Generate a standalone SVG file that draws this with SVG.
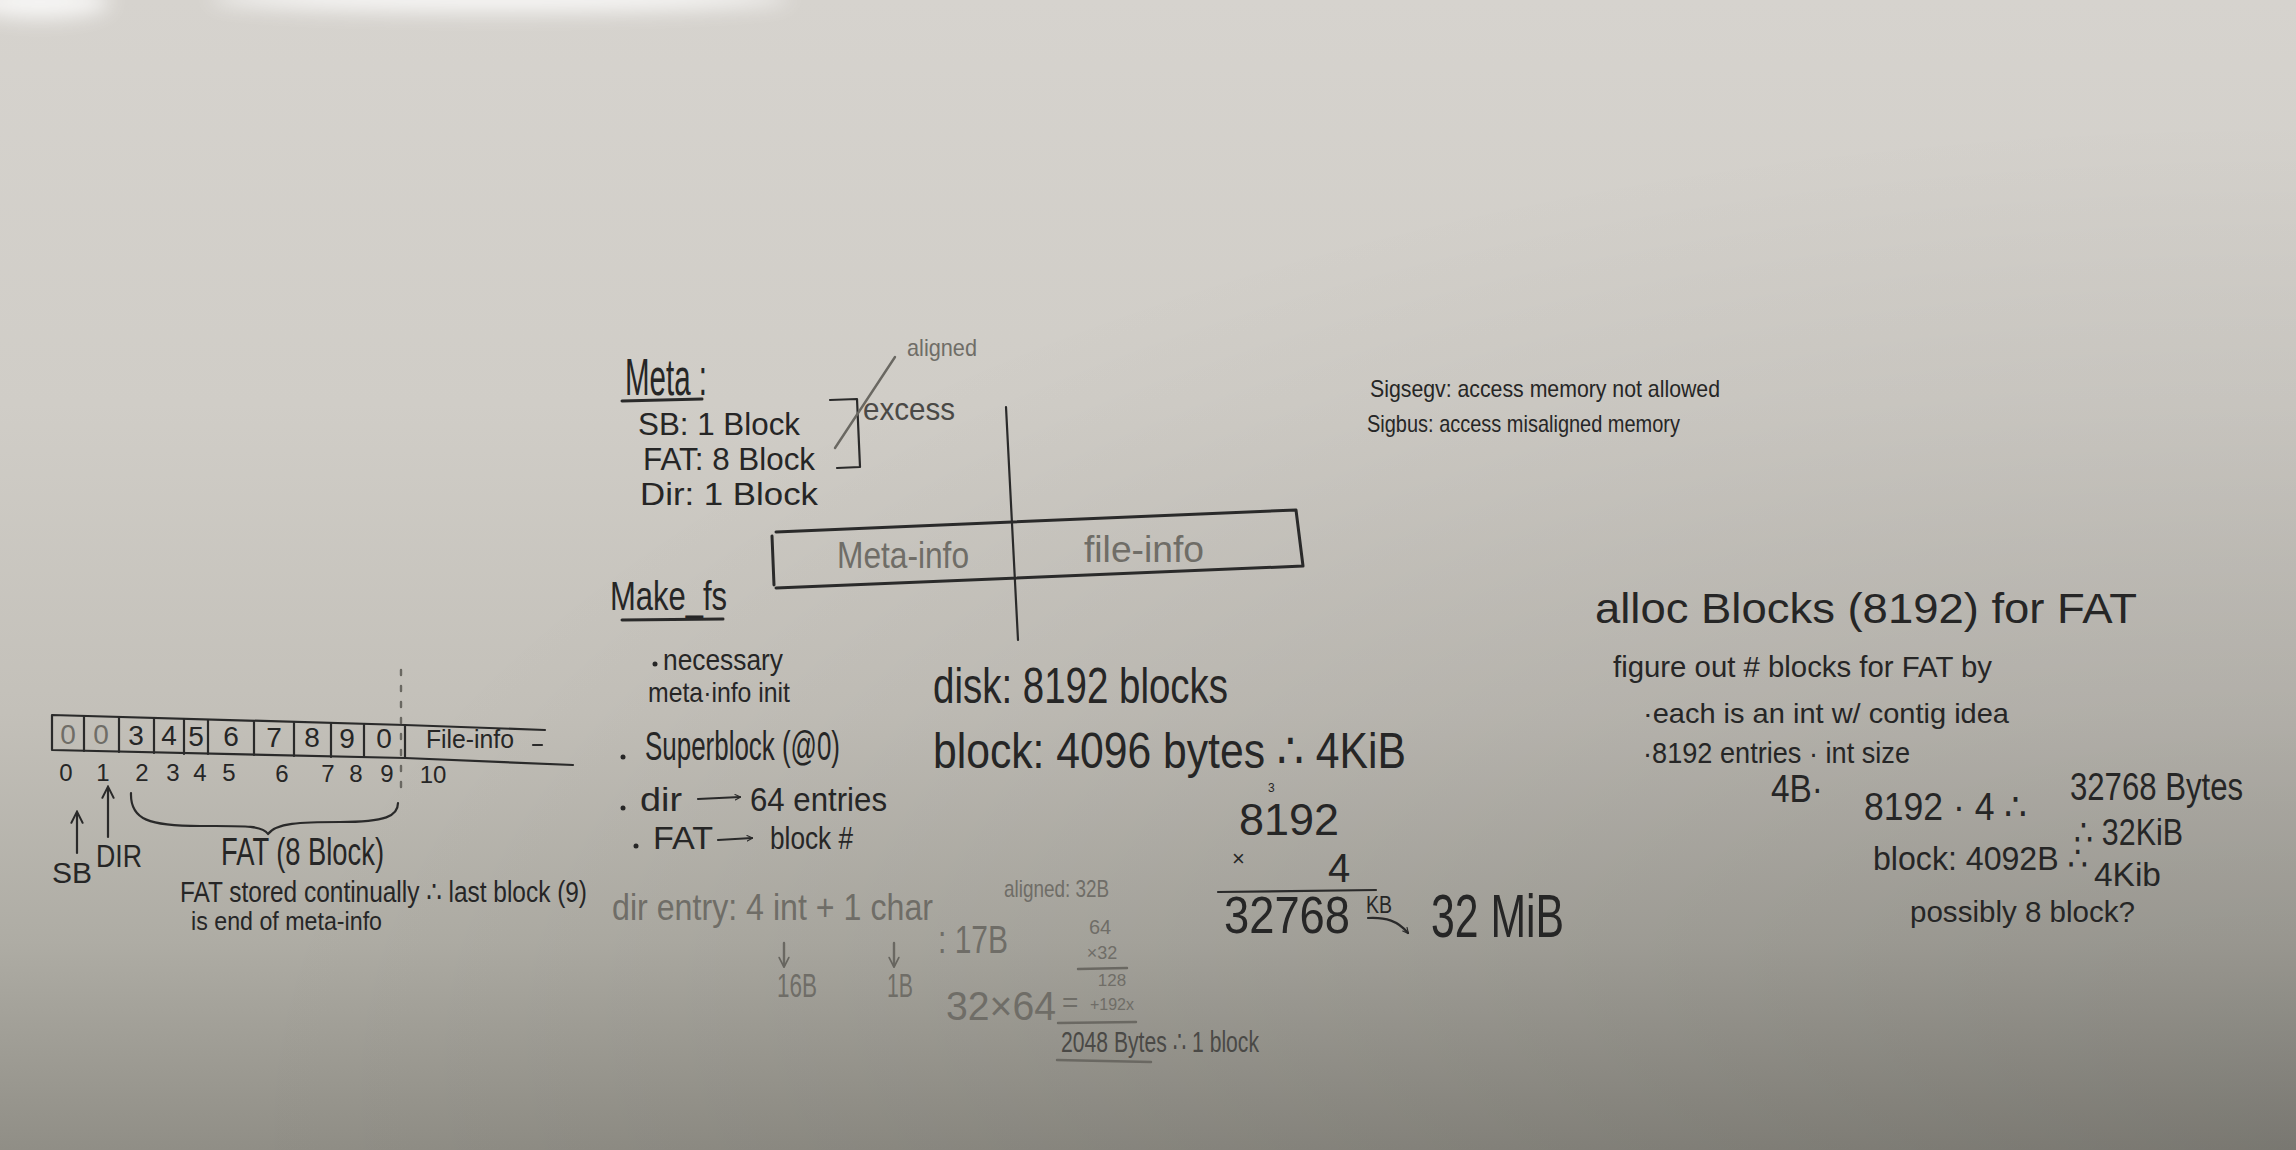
<svg xmlns="http://www.w3.org/2000/svg" width="2296" height="1150" viewBox="0 0 2296 1150">
  <defs>
    <linearGradient id="board" x1="0" y1="0" x2="0" y2="1">
      <stop offset="0" stop-color="#d6d3ce"/>
      <stop offset="0.35" stop-color="#d0cdc7"/>
      <stop offset="0.62" stop-color="#c3c0b9"/>
      <stop offset="0.82" stop-color="#aeaca4"/>
      <stop offset="1" stop-color="#908e86"/>
    </linearGradient>
    <radialGradient id="shade" cx="1" cy="1" r="0.9" gradientUnits="objectBoundingBox">
      <stop offset="0" stop-color="#000" stop-opacity="0.16"/>
      <stop offset="1" stop-color="#000" stop-opacity="0"/>
    </radialGradient>
    <filter id="soft" x="-50%" y="-200%" width="200%" height="500%">
      <feGaussianBlur stdDeviation="10"/>
    </filter>
    <marker id="head" viewBox="0 0 10 10" refX="8" refY="5" markerWidth="7" markerHeight="7" orient="auto-start-reverse" markerUnits="userSpaceOnUse">
      <path d="M1,1 L9,5 L1,9" fill="none" stroke="#2a2a2a" stroke-width="1.6" stroke-linecap="round"/>
    </marker>
    <marker id="headBig" viewBox="0 0 10 10" refX="8" refY="5" markerWidth="14" markerHeight="14" orient="auto" markerUnits="userSpaceOnUse">
      <path d="M1,1 L9,5 L1,9" fill="none" stroke="#2a2a2a" stroke-width="1.4" stroke-linecap="round"/>
    </marker>
    <marker id="headFaint" viewBox="0 0 10 10" refX="8" refY="5" markerWidth="12" markerHeight="12" orient="auto" markerUnits="userSpaceOnUse">
      <path d="M1,1 L9,5 L1,9" fill="none" stroke="#66645e" stroke-width="1.4" stroke-linecap="round"/>
    </marker>
  </defs>
  <style>
    text { font-family: "Liberation Sans", "DejaVu Sans", sans-serif; fill: #262626; }
    .faint { fill: #6f6d67; }
    .mid { fill: #4a4946; }
    .pen { fill: none; stroke: #2a2a2a; stroke-width: 3; stroke-linecap: round; stroke-linejoin: round; }
    .thin { stroke-width: 2.2; }
    .penFaint { fill: none; stroke: #6a6862; stroke-width: 2.4; stroke-linecap: round; stroke-linejoin: round; }
    .dot { fill: #262626; }
  </style>

  <!-- whiteboard surface -->
  <rect width="2296" height="1150" fill="url(#board)"/>
  <rect width="2296" height="1150" fill="url(#shade)"/>
  <g fill="#ffffff" opacity="0.8" filter="url(#soft)">
    <ellipse cx="40" cy="2" rx="70" ry="16"/>
    <ellipse cx="500" cy="-2" rx="290" ry="14"/>
  </g>

  <!-- metadata layout notes -->
  <g id="meta-notes">
    <text x="625" y="395" font-size="52" textLength="82" lengthAdjust="spacingAndGlyphs">Meta :</text>
    <path class="pen" d="M622,401 L702,399"/>
    <text x="638" y="435" font-size="32" textLength="162" lengthAdjust="spacingAndGlyphs">SB: 1 Block</text>
    <text x="643" y="470" font-size="32" textLength="172" lengthAdjust="spacingAndGlyphs">FAT: 8 Block</text>
    <text x="640" y="505" font-size="32" textLength="178" lengthAdjust="spacingAndGlyphs">Dir: 1 Block</text>
    <path class="pen thin" d="M830,400 L857,399 L860,467 L837,468"/>
    <path class="penFaint" d="M835,448 L895,357"/>
    <text class="faint" x="907" y="356" font-size="24" textLength="70" lengthAdjust="spacingAndGlyphs">aligned</text>
    <text class="mid" x="863" y="420" font-size="32" textLength="92" lengthAdjust="spacingAndGlyphs">excess</text>
  </g>

  <!-- disk split: meta-info | file-info -->
  <g id="disk-layout">
    <path class="pen" d="M776,532 L1296,510 L1303,566 L776,588 M772,536 L774,585"/>
    <path class="pen thin" d="M1006,407 L1018,640"/>
    <text class="faint" x="837" y="568" font-size="36" textLength="132" lengthAdjust="spacingAndGlyphs">Meta-info</text>
    <text class="faint" x="1084" y="562" font-size="36" textLength="120" lengthAdjust="spacingAndGlyphs">file-info</text>
  </g>

  <!-- make_fs steps -->
  <g id="make-fs">
    <text x="610" y="610" font-size="40" textLength="117" lengthAdjust="spacingAndGlyphs">Make_fs</text>
    <path class="pen" d="M622,620 L723,619"/>
    <circle class="dot" cx="655" cy="664" r="2.5"/>
    <text x="663" y="670" font-size="30" textLength="120" lengthAdjust="spacingAndGlyphs">necessary</text>
    <text x="648" y="702" font-size="28" textLength="142" lengthAdjust="spacingAndGlyphs">meta·info init</text>
    <circle class="dot" cx="623" cy="757" r="2.5"/>
    <text x="645" y="760" font-size="40" textLength="195" lengthAdjust="spacingAndGlyphs">Superblock (@0)</text>
    <circle class="dot" cx="623" cy="808" r="2.5"/>
    <text x="640" y="811" font-size="34" textLength="42" lengthAdjust="spacingAndGlyphs">dir</text>
    <text x="750" y="811" font-size="34" textLength="137" lengthAdjust="spacingAndGlyphs">64 entries</text>
    <circle class="dot" cx="636" cy="846" r="2.5"/>
    <text x="653" y="849" font-size="32" textLength="60" lengthAdjust="spacingAndGlyphs">FAT</text>
    <text x="770" y="849" font-size="32" textLength="83" lengthAdjust="spacingAndGlyphs">block #</text>
  </g>

  <!-- directory entry size -->
  <g id="dir-entry">
    <text class="faint" x="612" y="920" font-size="36" textLength="321" lengthAdjust="spacingAndGlyphs">dir entry: 4 int + 1 char</text>
    <text class="faint" x="1004" y="897" font-size="24" textLength="105" lengthAdjust="spacingAndGlyphs">aligned: 32B</text>
    <text class="faint" x="797" y="997" font-size="34" text-anchor="middle" textLength="40" lengthAdjust="spacingAndGlyphs">16B</text>
    <text class="faint" x="900" y="997" font-size="34" text-anchor="middle" textLength="26" lengthAdjust="spacingAndGlyphs">1B</text>
    <text class="faint" x="938" y="953" font-size="38" textLength="70" lengthAdjust="spacingAndGlyphs">: 17B</text>
    <text class="faint" x="1100" y="934" font-size="20" text-anchor="middle">64</text>
    <text class="faint" x="1102" y="959" font-size="18" text-anchor="middle">×32</text>
    <path class="penFaint" d="M1078,969 L1127,968"/>
    <text class="faint" x="1112" y="986" font-size="17" text-anchor="middle">128</text>
    <text class="faint" x="1112" y="1010" font-size="16" text-anchor="middle">+192x</text>
    <text class="faint" x="946" y="1020" font-size="40" textLength="110" lengthAdjust="spacingAndGlyphs">32×64</text>
    <text class="faint" x="1062" y="1012" font-size="28">=</text>
    <path class="penFaint" d="M1058,1023 L1136,1022"/>
    <text class="mid" x="1061" y="1052" font-size="30" textLength="198" lengthAdjust="spacingAndGlyphs">2048 Bytes ∴ 1 block</text>
    <path class="penFaint" d="M1057,1060 L1151,1062"/>
  </g>

  <!-- disk size calculation -->
  <g id="disk-size">
    <text x="933" y="703" font-size="50" textLength="295" lengthAdjust="spacingAndGlyphs">disk: 8192 blocks</text>
    <text x="933" y="768" font-size="50" textLength="473" lengthAdjust="spacingAndGlyphs">block: 4096 bytes ∴ 4KiB</text>
    <text x="1239" y="835" font-size="44" textLength="100" lengthAdjust="spacingAndGlyphs">8192</text>
    <text x="1268" y="792" font-size="12">3</text>
    <text x="1232" y="866" font-size="22">×</text>
    <text x="1328" y="882" font-size="40">4</text>
    <path class="pen thin" d="M1218,892 L1376,890"/>
    <text x="1224" y="933" font-size="52" textLength="126" lengthAdjust="spacingAndGlyphs">32768</text>
    <text x="1366" y="913" font-size="24" textLength="26" lengthAdjust="spacingAndGlyphs">KB</text>
    <text x="1431" y="937" font-size="62" textLength="133" lengthAdjust="spacingAndGlyphs">32 MiB</text>
  </g>

  <!-- signal notes -->
  <g id="signals">
    <text x="1370" y="397" font-size="24" textLength="350" lengthAdjust="spacingAndGlyphs">Sigsegv: access memory not allowed</text>
    <text x="1367" y="432" font-size="24" textLength="313" lengthAdjust="spacingAndGlyphs">Sigbus: access misaligned memory</text>
  </g>

  <!-- FAT allocation reasoning -->
  <g id="fat-alloc">
    <text x="1595" y="623" font-size="42" textLength="542" lengthAdjust="spacingAndGlyphs">alloc Blocks (8192) for FAT</text>
    <text x="1613" y="677" font-size="30" textLength="379" lengthAdjust="spacingAndGlyphs">figure out # blocks for FAT by</text>
    <text x="1643" y="723" font-size="28" textLength="366" lengthAdjust="spacingAndGlyphs">·each is an int w/ contig idea</text>
    <text x="1643" y="763" font-size="30" textLength="267" lengthAdjust="spacingAndGlyphs">·8192 entries · int size</text>
    <text x="1771" y="802" font-size="38" textLength="52" lengthAdjust="spacingAndGlyphs">4B·</text>
    <text x="1864" y="820" font-size="38" textLength="163" lengthAdjust="spacingAndGlyphs">8192 · 4 ∴</text>
    <text x="2070" y="800" font-size="38" textLength="173" lengthAdjust="spacingAndGlyphs">32768 Bytes</text>
    <text x="2074" y="845" font-size="36" textLength="109" lengthAdjust="spacingAndGlyphs">∴ 32KiB</text>
    <text x="1873" y="870" font-size="34" textLength="215" lengthAdjust="spacingAndGlyphs">block: 4092B ∴</text>
    <text x="2094" y="886" font-size="34" textLength="67" lengthAdjust="spacingAndGlyphs">4Kib</text>
    <text x="1910" y="922" font-size="30" textLength="225" lengthAdjust="spacingAndGlyphs">possibly 8 block?</text>
  </g>

  <!-- block map of the disk -->
  <g id="block-map">
    <path class="pen thin" d="M52,715 L405,725 L545,730 M52,750 L405,758 L573,765 M52,715 L52,750"/>
    <path class="pen thin" d="M84,716 L84,751 M119,717 L119,752 M154,718 L154,753 M184,719 L184,754 M208,720 L208,754 M254,721 L254,755 M294,722 L294,756 M331,723 L331,757 M364,724 L364,757 M405,725 L405,758"/>
    <path class="penFaint" d="M401,670 L401,795" stroke-dasharray="5 11" stroke-width="2"/>
    <g font-size="28" text-anchor="middle">
      <text class="faint" x="68" y="744">0</text>
      <text class="faint" x="101" y="744">0</text>
      <text x="136" y="745">3</text>
      <text x="169" y="745">4</text>
      <text x="196" y="746">5</text>
      <text x="231" y="746">6</text>
      <text x="274" y="747">7</text>
      <text x="312" y="747">8</text>
      <text x="347" y="748">9</text>
      <text x="384" y="748">0</text>
    </g>
    <text x="426" y="748" font-size="26" textLength="88" lengthAdjust="spacingAndGlyphs">File-info</text>
    <path class="pen thin" d="M533,745 L542,745"/>
    <g font-size="24" text-anchor="middle">
      <text x="66" y="781">0</text>
      <text x="103" y="781">1</text>
      <text x="142" y="781">2</text>
      <text x="173" y="781">3</text>
      <text x="200" y="781">4</text>
      <text x="229" y="781">5</text>
      <text x="282" y="782">6</text>
      <text x="328" y="782">7</text>
      <text x="356" y="782">8</text>
      <text x="387" y="782">9</text>
      <text x="433" y="783">10</text>
    </g>
    <text x="72" y="883" font-size="30" text-anchor="middle">SB</text>
    <text x="119" y="867" font-size="32" text-anchor="middle" textLength="46" lengthAdjust="spacingAndGlyphs">DIR</text>
    <path class="pen thin" d="M131,793 C130,820 150,826 200,826 C242,826 262,825 268,834 C276,823 300,822 340,822 C386,822 398,816 398,803"/>
    <text x="221" y="865" font-size="38" textLength="163" lengthAdjust="spacingAndGlyphs">FAT (8 Block)</text>
    <text x="180" y="902" font-size="30" textLength="407" lengthAdjust="spacingAndGlyphs">FAT stored continually ∴ last block (9)</text>
    <text x="191" y="930" font-size="26" textLength="191" lengthAdjust="spacingAndGlyphs">is end of meta-info</text>
  </g>

  <!-- arrows -->
  <g id="connectors" class="pen thin">
    <path d="M77,853 L77,813" marker-end="url(#headBig)"/>
    <path d="M108,837 L108,788" marker-end="url(#headBig)"/>
    <path d="M698,799 L740,797" marker-end="url(#head)"/>
    <path d="M718,840 L752,838" marker-end="url(#head)"/>
    <path d="M1368,918 C1386,917 1398,921 1408,933" marker-end="url(#head)"/>
    <path class="penFaint" d="M784,943 L784,966" marker-end="url(#headFaint)"/>
    <path class="penFaint" d="M894,943 L894,966" marker-end="url(#headFaint)"/>
  </g>
</svg>
